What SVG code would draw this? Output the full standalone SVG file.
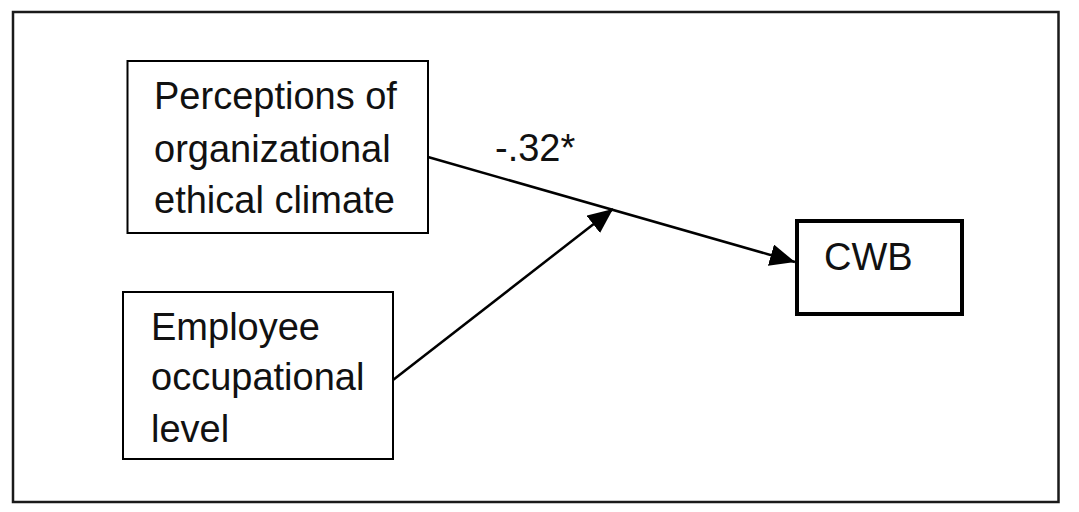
<svg xmlns="http://www.w3.org/2000/svg" width="1079" height="512" viewBox="0 0 1079 512">
<defs>
<style>
.box{fill:#fff;stroke:#000;stroke-width:2}
.thick{fill:#fff;stroke:#000;stroke-width:4}
.t{font-family:"Liberation Sans",Arial,sans-serif;font-size:38px;fill:#111}
.edge{stroke:#000;stroke-width:2.5;fill:none}
</style>
<marker id="arr" viewBox="0 0 25 22" refX="25" refY="11" markerWidth="25" markerHeight="22" markerUnits="userSpaceOnUse" orient="auto">
<path d="M0,0 L25,11 L0,22 z" fill="#000"/>
</marker>
</defs>
<rect x="0" y="0" width="1079" height="512" fill="#fff"/>
<rect x="13" y="12" width="1045.5" height="490" fill="none" stroke="#1a1a1a" stroke-width="2.5"/>
<g id="connectors">
<line class="edge" x1="428" y1="157" x2="795" y2="262" marker-end="url(#arr)"/>
<line class="edge" x1="393" y1="380" x2="613" y2="209" marker-end="url(#arr)"/>
<text class="t" x="495" y="161">-.32*</text>
</g>
<g id="node-perceptions">
<rect class="box" x="127.5" y="61" width="300.5" height="172"/>
<text class="t" x="154" y="109">Perceptions of</text>
<text class="t" x="154" y="162">organizational</text>
<text class="t" x="154" y="213">ethical climate</text>
</g>
<g id="node-employee">
<rect class="box" x="123" y="292" width="270" height="167"/>
<text class="t" x="151" y="340">Employee</text>
<text class="t" x="151" y="390">occupational</text>
<text class="t" x="151" y="442">level</text>
</g>
<g id="node-cwb">
<rect class="thick" x="797" y="221" width="165" height="93"/>
<text class="t" x="824" y="270">CWB</text>
</g>
</svg>
